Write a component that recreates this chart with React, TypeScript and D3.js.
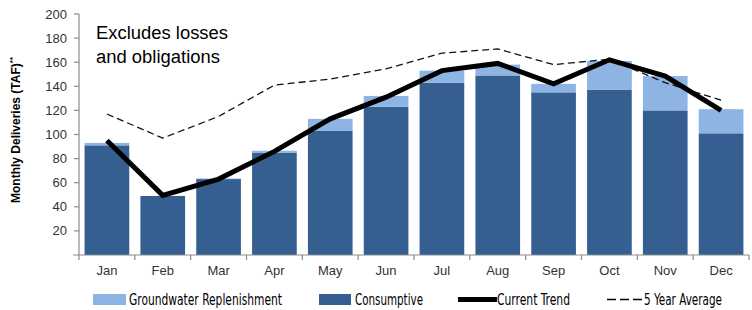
import React from "react";
import * as d3 from "d3";

const months = ["Jan", "Feb", "Mar", "Apr", "May", "Jun", "Jul", "Aug", "Sep", "Oct", "Nov", "Dec"];
const consumptive = [91, 49, 63, 85, 103, 123, 143, 149, 135, 137, 120, 101];
const groundwater = [2, 0, 0.5, 1.5, 10, 9, 10, 9, 7, 24, 28.5, 20];
const currentTrend = [95, 49.5, 63, 86, 113, 131, 153, 159, 142, 162, 148.5, 120];
const fiveYearAvg = [117, 97, 115, 141, 146, 154.5, 167.5, 171, 158, 162.5, 143, 128.5];
const yTicks = [20, 40, 60, 80, 100, 120, 140, 160, 180, 200];
const legendLabels = ["Groundwater Replenishment", "Consumptive", "Current Trend", "5 Year Average"];

const DARK = "#365F91";
const LIGHT = "#8DB4E2";
const AXIS = "#8c8c8c";
const NARROW = "'DejaVu Sans Condensed', 'Liberation Sans Narrow', sans-serif";
const ARIAL = "Arial, 'Liberation Sans', sans-serif";

export default function App() {
  const W = 752, H = 310;
  const x = d3.scaleBand<string>().domain(months).range([79, 749]).paddingInner(0.2).paddingOuter(0.1);
  const y = d3.scaleLinear().domain([0, 200]).range([255, 14]);
  const bw = x.bandwidth();
  const cx = (m: string) => (x(m) as number) + bw / 2;
  const step = x.step();
  const line = d3.line<number>().x((_, i) => cx(months[i])).y((d) => y(d));

  const legendText = (label: string, lx: number, len: number) => (
    <text x={lx} y={304.5} fontFamily={NARROW} fontSize={15.5} fill="#000" textLength={len} lengthAdjust="spacingAndGlyphs">
      {label}
    </text>
  );

  return (
    <svg width={W} height={H} style={{ position: "absolute", left: 0, top: 0, background: "#fff" }}>
      {/* bars */}
      {months.map((m, i) => (
        <g key={m}>
          <rect x={x(m)} y={y(consumptive[i])} width={bw} height={y(0) - y(consumptive[i])} fill={DARK} />
          {groundwater[i] > 0 && (
            <rect
              x={x(m)}
              y={y(consumptive[i] + groundwater[i])}
              width={bw}
              height={y(consumptive[i]) - y(consumptive[i] + groundwater[i])}
              fill={LIGHT}
            />
          )}
        </g>
      ))}
      {/* axes */}
      <line x1={79} x2={79} y1={y(200)} y2={y(0)} stroke={AXIS} strokeWidth={1.2} />
      <line x1={73} x2={749} y1={y(0)} y2={y(0)} stroke={AXIS} strokeWidth={1.2} />
      {yTicks.map((t) => (
        <g key={t}>
          <line x1={74} x2={79} y1={y(t)} y2={y(t)} stroke={AXIS} strokeWidth={1.2} />
          <text x={67} y={y(t)} dy="0.35em" textAnchor="end" fontFamily={ARIAL} fontSize={13} fill="#333">
            {t}
          </text>
        </g>
      ))}
      {d3.range(13).map((k) => (
        <line key={k} x1={79 + k * step} x2={79 + k * step} y1={y(0)} y2={y(0) + 5} stroke={AXIS} strokeWidth={1.2} />
      ))}
      {months.map((m) => (
        <text key={m} x={cx(m)} y={275} textAnchor="middle" fontFamily={ARIAL} fontSize={13} fill="#333">
          {m}
        </text>
      ))}
      {/* lines */}
      <path d={line(fiveYearAvg) as string} fill="none" stroke="#111" strokeWidth={1.3} strokeDasharray="7,4" />
      <path d={line(currentTrend) as string} fill="none" stroke="#000" strokeWidth={5} strokeLinejoin="miter" />
      {/* y title */}
      <text
        transform="translate(20,130) rotate(-90)"
        textAnchor="middle"
        fontFamily={ARIAL}
        fontSize={12}
        fontWeight="bold"
        fill="#000"
      >
        Monthly Deliveries (TAF)<tspan fontSize={8} dy={-5}>**</tspan>
      </text>
      {/* annotation */}
      <text x={96} y={39} fontFamily={ARIAL} fontSize={18} fill="#000" textLength={132} lengthAdjust="spacingAndGlyphs">
        Excludes losses
      </text>
      <text x={96} y={63} fontFamily={ARIAL} fontSize={18} fill="#000" textLength={124} lengthAdjust="spacingAndGlyphs">
        and obligations
      </text>
      {/* legend */}
      <rect x={93} y={294} width={33} height={11} fill={LIGHT} />
      {legendText(legendLabels[0], 129, 153)}
      <rect x={319} y={294} width={32} height={11} fill={DARK} />
      {legendText(legendLabels[1], 355, 68)}
      <line x1={458} x2={497} y1={299.5} y2={299.5} stroke="#000" strokeWidth={5} />
      {legendText(legendLabels[2], 497, 73)}
      <line x1={607} x2={642} y1={299.5} y2={299.5} stroke="#000" strokeWidth={1.6} strokeDasharray="9,4" />
      {legendText(legendLabels[3], 644, 78)}
    </svg>
  );
}
